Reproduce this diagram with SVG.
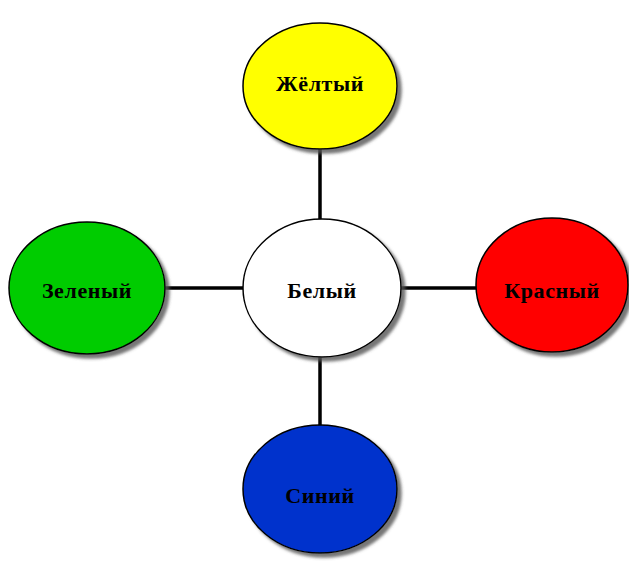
<svg xmlns="http://www.w3.org/2000/svg" width="629" height="562" viewBox="0 0 629 562">
<defs>
<filter id="sh" x="-10%" y="-10%" width="125%" height="125%">
<feDropShadow dx="4" dy="4" stdDeviation="1.5" flood-color="#555" flood-opacity="0.8"/>
</filter>
</defs>
<style>
.n{stroke:#000;stroke-width:1.5;filter:url(#sh)}
.t{font-family:"Liberation Serif","Times New Roman",serif;font-weight:bold;font-size:22px;letter-spacing:0.6px;text-anchor:middle;fill:#000}
.c{stroke:#000;stroke-width:3.5;fill:none}
</style>
<rect width="629" height="562" fill="#fff"/>
<g id="connectors">
<line class="c" x1="320" y1="148" x2="320" y2="219"/>
<line class="c" x1="320" y1="357" x2="320" y2="426"/>
<line class="c" x1="165" y1="288" x2="243" y2="288"/>
<line class="c" x1="401" y1="288" x2="476" y2="288"/>
</g>
<g id="yellow">
<ellipse class="n" cx="320" cy="86" rx="77" ry="63" fill="#ffff00"/>
<text class="t" x="320" y="91">Жёлтый</text>
</g>
<g id="white">
<ellipse class="n" cx="322" cy="288" rx="79" ry="69" fill="#ffffff"/>
<text class="t" x="322" y="298">Белый</text>
</g>
<g id="green">
<ellipse class="n" cx="87" cy="288" rx="78" ry="66" fill="#00cc00"/>
<text class="t" x="87" y="298">Зеленый</text>
</g>
<g id="red">
<ellipse class="n" cx="552" cy="285" rx="76" ry="67" fill="#ff0000"/>
<text class="t" x="552" y="298">Красный</text>
</g>
<g id="blue">
<ellipse class="n" cx="320" cy="489" rx="77" ry="64" fill="#0033cc"/>
<text class="t" x="320" y="503">Синий</text>
</g>
</svg>
